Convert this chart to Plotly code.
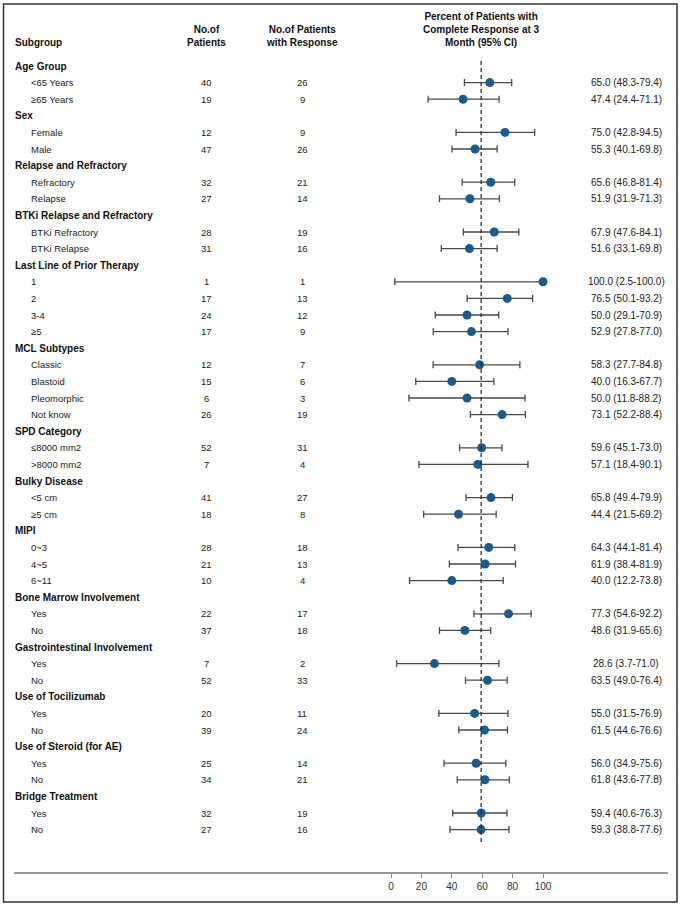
import plotly.graph_objects as go

# Subgroup rows (headers have no numbers)
labels = [
    "Age Group", "<65 Years", "≥65 Years",
    "Sex", "Female", "Male",
    "Relapse and Refractory", "Refractory", "Relapse",
    "BTKi Relapse and Refractory", "BTKi Refractory", "BTKi Relapse",
    "Last Line of Prior Therapy", "1", "2", "3-4", "≥5",
    "MCL Subtypes", "Classic", "Blastoid", "Pleomorphic", "Not know",
    "SPD Category", "≤8000 mm2", ">8000 mm2",
    "Bulky Disease", "<5 cm", "≥5 cm",
    "MIPI", "0~3", "4~5", "6~11",
    "Bone Marrow Involvement", "Yes", "No",
    "Gastrointestinal Involvement", "Yes", "No",
    "Use of Tocilizumab", "Yes", "No",
    "Use of Steroid (for AE)", "Yes", "No",
    "Bridge Treatment", "Yes", "No",
]
is_header = [
    1, 0, 0,
    1, 0, 0,
    1, 0, 0,
    1, 0, 0,
    1, 0, 0, 0, 0,
    1, 0, 0, 0, 0,
    1, 0, 0,
    1, 0, 0,
    1, 0, 0, 0,
    1, 0, 0,
    1, 0, 0,
    1, 0, 0,
    1, 0, 0,
    1, 0, 0,
]
n_patients = [
    None, 40, 19, None, 12, 47, None, 32, 27, None, 28, 31,
    None, 1, 17, 24, 17, None, 12, 15, 6, 26, None, 52, 7,
    None, 41, 18, None, 28, 21, 10, None, 22, 37, None, 7, 52,
    None, 20, 39, None, 25, 34, None, 32, 27,
]
n_response = [
    None, 26, 9, None, 9, 26, None, 21, 14, None, 19, 16,
    None, 1, 13, 12, 9, None, 7, 6, 3, 19, None, 31, 4,
    None, 27, 8, None, 18, 13, 4, None, 17, 18, None, 2, 33,
    None, 11, 24, None, 14, 21, None, 19, 16,
]
cr_pct = [
    None, 65.0, 47.4, None, 75.0, 55.3, None, 65.6, 51.9, None, 67.9, 51.6,
    None, 100.0, 76.5, 50.0, 52.9, None, 58.3, 40.0, 50.0, 73.1, None, 59.6, 57.1,
    None, 65.8, 44.4, None, 64.3, 61.9, 40.0, None, 77.3, 48.6, None, 28.6, 63.5,
    None, 55.0, 61.5, None, 56.0, 61.8, None, 59.4, 59.3,
]
ci_low = [
    None, 48.3, 24.4, None, 42.8, 40.1, None, 46.8, 31.9, None, 47.6, 33.1,
    None, 2.5, 50.1, 29.1, 27.8, None, 27.7, 16.3, 11.8, 52.2, None, 45.1, 18.4,
    None, 49.4, 21.5, None, 44.1, 38.4, 12.2, None, 54.6, 31.9, None, 3.7, 49.0,
    None, 31.5, 44.6, None, 34.9, 43.6, None, 40.6, 38.8,
]
ci_high = [
    None, 79.4, 71.1, None, 94.5, 69.8, None, 81.4, 71.3, None, 84.1, 69.8,
    None, 100.0, 93.2, 70.9, 77.0, None, 84.8, 67.7, 88.2, 88.4, None, 73.0, 90.1,
    None, 79.9, 69.2, None, 81.4, 81.9, 73.8, None, 92.2, 65.6, None, 71.0, 76.4,
    None, 76.9, 76.6, None, 75.6, 77.8, None, 76.3, 77.6,
]
overall_cr = 59.3
x_ticks = [0, 20, 40, 60, 80, 100]

FONT = "Liberation Sans, Arial, Helvetica, sans-serif"
W, H = 681, 906

rows = list(range(1, len(labels) + 1))
pr = [(r, p, lo, hi) for r, p, lo, hi in zip(rows, cr_pct, ci_low, ci_high) if p is not None]
ys = [t[0] for t in pr]
xs = [t[1] for t in pr]
err_plus = [t[3] - t[1] for t in pr]
err_minus = [t[1] - t[2] for t in pr]

fig = go.Figure()
fig.add_trace(go.Scatter(
    x=xs, y=ys, mode="markers",
    marker=dict(color="#1b5a8e", size=9),
    error_x=dict(type="data", symmetric=False, array=err_plus, arrayminus=err_minus,
                 color="#4a4a4a", thickness=1.3, width=3.5),
    showlegend=False, hoverinfo="skip",
))

annotations = []
def px(x):
    return x / W

body = dict(size=9.5, color="#222")
bold = dict(size=10, color="#111")

for r, lab, hd, n, k, p, lo, hi in zip(rows, labels, is_header, n_patients, n_response,
                                        cr_pct, ci_low, ci_high):
    if hd:
        annotations.append(dict(x=px(13), y=r, xref="paper", yref="y", xanchor="left",
                                text="<b>%s</b>" % lab, showarrow=False, font=bold))
        continue
    annotations.append(dict(x=px(29), y=r, xref="paper", yref="y", xanchor="left",
                            text=lab, showarrow=False, font=body))
    annotations.append(dict(x=px(207), y=r, xref="paper", yref="y", xanchor="center",
                            text=str(n), showarrow=False, font=body))
    annotations.append(dict(x=px(302), y=r, xref="paper", yref="y", xanchor="center",
                            text=str(k), showarrow=False, font=body))
    annotations.append(dict(x=px(626), y=r, xref="paper", yref="y", xanchor="center",
                            text="%.1f (%.1f-%.1f)" % (p, lo, hi), showarrow=False,
                            font=dict(size=10, color="#222")))

# column headers
hdr_y = 0.06
annotations += [
    dict(x=px(13), y=hdr_y, xref="paper", yref="y", xanchor="left", yanchor="bottom",
         text="<b>Subgroup</b>", showarrow=False, font=bold),
    dict(x=px(207), y=hdr_y, xref="paper", yref="y", xanchor="center", yanchor="bottom",
         text="<b>No.of<br>Patients</b>", showarrow=False, font=bold),
    dict(x=px(302), y=hdr_y, xref="paper", yref="y", xanchor="center", yanchor="bottom",
         text="<b>No.of Patients<br>with Response</b>", showarrow=False, font=bold),
    dict(x=px(481), y=hdr_y, xref="paper", yref="y", xanchor="center", yanchor="bottom",
         text="<b>Percent of Patients with<br>Complete Response at 3<br>Month (95% CI)</b>",
         showarrow=False, font=bold),
]

shapes = [
    # reference line at overall CR rate
    dict(type="line", xref="x", yref="y", x0=overall_cr, x1=overall_cr, y0=0.7, y1=47.9,
         line=dict(color="#222", width=1.2, dash="4px,3px")),
    # outer frame
    dict(type="rect", xref="paper", yref="paper", x0=3.5 / W, x1=677 / W,
         y0=1 - 902 / H, y1=1 - 4 / H, line=dict(color="#333", width=1.5)),
]

# pixel mapping: 0 -> 391px, 100 -> 543px; rows 16.6px apart starting at 66px
x_left, x_right = 14, 668
scale = (543 - 391) / 100
y_bottom_px = 872
fig.update_layout(
    width=W, height=H,
    margin=dict(l=0, r=0, t=0, b=0),
    paper_bgcolor="white", plot_bgcolor="white",
    font=dict(family=FONT, color="#333", size=10),
    annotations=annotations, shapes=shapes,
    xaxis=dict(
        domain=[x_left / W, x_right / W],
        range=[(x_left - 391) / scale, (x_right - 391) / scale],
        tickvals=x_ticks, ticks="outside", ticklen=4, tickcolor="#888",
        showline=True, linecolor="#999", linewidth=1.5,
        showgrid=False, zeroline=False, tickfont=dict(size=10, color="#333"),
    ),
    yaxis=dict(
        domain=[1 - y_bottom_px / H, 1],
        range=[(y_bottom_px - 66) / 16.6 + 1, (0 - 66) / 16.6 + 1],
        visible=False, showgrid=False, zeroline=False,
    ),
)

fig.write_html("out.html", config={"displayModeBar": False},
               post_script="document.body.style.margin='0';")
